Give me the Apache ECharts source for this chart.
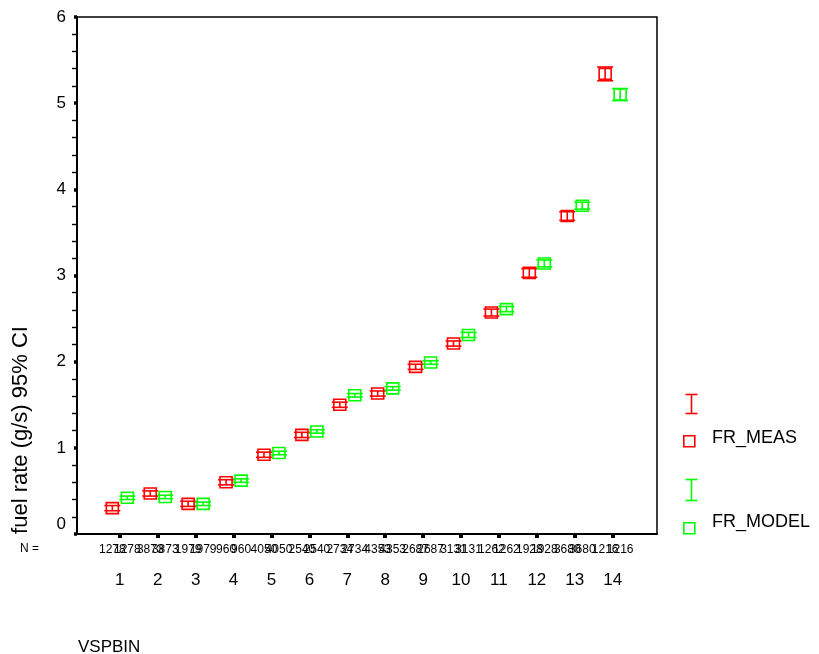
<!DOCTYPE html>
<html>
<head>
<meta charset="utf-8">
<script src="https://cdn.jsdelivr.net/npm/echarts@6/dist/echarts.min.js"></script>
<style>
  html, body { margin: 0; padding: 0; background: #fff; }
  #chart { width: 819px; height: 654px; }
</style>
</head>
<body>
<div id="chart"></div>
<script>
// Speed bins on the x axis
const bins = [1, 2, 3, 4, 5, 6, 7, 8, 9, 10, 11, 12, 13, 14];

// Measured fuel rate (g/s): mean and 95% confidence interval
const measMean = [0.30, 0.47, 0.35, 0.60, 0.92, 1.15, 1.50, 1.63, 1.94, 2.21, 2.57, 3.03, 3.69, 5.34];
const measLow  = [0.27, 0.44, 0.32, 0.57, 0.89, 1.12, 1.47, 1.60, 1.91, 2.18, 2.53, 2.98, 3.64, 5.26];
const measHigh = [0.33, 0.50, 0.38, 0.63, 0.95, 1.18, 1.53, 1.66, 1.97, 2.24, 2.61, 3.08, 3.74, 5.42];

// Modelled fuel rate (g/s): mean and 95% confidence interval
const modelMean = [0.42, 0.43, 0.35, 0.62, 0.94, 1.19, 1.61, 1.69, 1.99, 2.31, 2.61, 3.14, 3.81, 5.10];
const modelLow  = [0.40, 0.41, 0.33, 0.60, 0.92, 1.17, 1.59, 1.67, 1.97, 2.28, 2.58, 3.10, 3.77, 5.03];
const modelHigh = [0.44, 0.45, 0.37, 0.64, 0.96, 1.21, 1.63, 1.71, 2.01, 2.34, 2.64, 3.18, 3.85, 5.17];

// Number of cases in each bin
const binN = [1278, 3873, 1979, 960, 4050, 2540, 2734, 4353, 2687, 3131, 1262, 1928, 3680, 1216];

// Value-axis ticks
const yTicks = [0, 1, 2, 3, 4, 5, 6];

const FONT = '"Liberation Sans", Arial, Helvetica, sans-serif';
const RED = '#ff0000';
const GREEN = '#00ff00';

function buildData(mean, low, high) {
  return bins.map((b, i) => [b, mean[i], low[i], high[i], binN[i]]);
}

// Hollow square at the mean, whiskers with caps for the CI, and the case count under the axis
function errorBarItem(color, shiftPx) {
  return function (params, api) {
    const p = api.coord([api.value(0), api.value(1)]);
    const cx = p[0] + shiftPx;
    const cy = p[1];
    const yLo = api.coord([api.value(0), api.value(2)])[1];
    const yHi = api.coord([api.value(0), api.value(3)])[1];
    const yBase = api.coord([api.value(0), 0])[1];
    const st = { stroke: color, lineWidth: 1.6 };
    return {
      type: 'group',
      children: [
        { type: 'rect', shape: { x: cx - 6, y: cy - 5.5, width: 12, height: 11 },
          style: { stroke: color, fill: 'transparent', lineWidth: 1.6 } },
        { type: 'line', shape: { x1: cx, y1: yLo, x2: cx, y2: yHi }, style: st },
        { type: 'line', shape: { x1: cx - 8, y1: yLo, x2: cx + 8, y2: yLo }, style: st },
        { type: 'line', shape: { x1: cx - 8, y1: yHi, x2: cx + 8, y2: yHi }, style: st },
        { type: 'text', x: cx, y: yBase + 16,
          style: { text: String(api.value(4)), fill: '#000', font: '12px ' + FONT,
                   align: 'center', verticalAlign: 'middle' } }
      ]
    };
  };
}

const chart = echarts.init(document.getElementById('chart'), null, { renderer: 'canvas' });

chart.setOption({
  animation: false,
  backgroundColor: '#fff',
  grid: {
    left: 77, top: 17, width: 580, height: 517,
    show: true, borderColor: '#000', borderWidth: 1.5, backgroundColor: 'transparent'
  },
  xAxis: {
    type: 'value',
    min: -0.13, max: 15.17,
    splitLine: { show: false },
    axisLine: { show: true, onZero: false, lineStyle: { color: '#000', width: 2 } },
    axisTick: { show: true, customValues: bins, length: 4, inside: false,
                lineStyle: { color: '#000', width: 4 } },
    axisLabel: { show: true, customValues: bins, margin: 38,
                 color: '#000', fontSize: 17, fontFamily: FONT }
  },
  yAxis: {
    type: 'value',
    min: 0, max: 6, interval: 1,
    splitLine: { show: false },
    axisLine: { show: true, onZero: false, lineStyle: { color: '#000', width: 2 } },
    axisTick: { show: true, length: 3, lineStyle: { color: '#000', width: 3.5 } },
    minorTick: { show: true, splitNumber: 5, length: 5, lineStyle: { color: '#000', width: 1.4 } },
    axisLabel: {
      show: true, margin: 11, color: '#000', fontSize: 17, fontFamily: FONT,
      customValues: yTicks,
      formatter: v => (v === 0 ? '{z|0}' : String(v)),
      rich: { z: { fontSize: 17, fontFamily: FONT, color: '#000', padding: [0, 0, 20, 0] } }
    },
    name: 'fuel rate (g/s) 95% CI',
    nameLocation: 'middle', nameGap: 45, nameRotate: 90,
    nameTextStyle: { color: '#000', fontSize: 22, fontFamily: FONT, padding: [0, 0, 0, -309] }
  },
  series: [
    {
      name: 'FR_MEAS', type: 'custom',
      renderItem: errorBarItem(RED, -7.5),
      data: buildData(measMean, measLow, measHigh),
      clip: false, z: 3
    },
    {
      name: 'FR_MODEL', type: 'custom',
      renderItem: errorBarItem(GREEN, 7.5),
      data: buildData(modelMean, modelLow, modelHigh),
      clip: false, z: 4
    }
  ],
  graphic: [
    { type: 'text', left: 20, top: 543,
      style: { text: 'N =', fill: '#000', font: '12px ' + FONT } },
    { type: 'text', left: 78, top: 639,
      style: { text: 'VSPBIN', fill: '#000', font: '17px ' + FONT } },
    // legend: red CI bar and mean marker
    { type: 'group', left: 683, top: 392, children: [
      { type: 'line', shape: { x1: 6, y1: 0, x2: 6, y2: 19 }, style: { stroke: RED, lineWidth: 1.6 } },
      { type: 'line', shape: { x1: 0, y1: 0, x2: 12, y2: 0 }, style: { stroke: RED, lineWidth: 1.6 } },
      { type: 'line', shape: { x1: 0, y1: 19, x2: 12, y2: 19 }, style: { stroke: RED, lineWidth: 1.6 } }
    ] },
    { type: 'rect', left: 683, top: 435, shape: { width: 11, height: 11 },
      style: { stroke: RED, fill: 'transparent', lineWidth: 1.6 } },
    { type: 'text', left: 712, top: 429,
      style: { text: 'FR_MEAS', fill: '#000', font: '18px ' + FONT } },
    // legend: green CI bar and mean marker
    { type: 'group', left: 683, top: 477, children: [
      { type: 'line', shape: { x1: 6, y1: 0, x2: 6, y2: 21 }, style: { stroke: GREEN, lineWidth: 1.6 } },
      { type: 'line', shape: { x1: 0, y1: 0, x2: 12, y2: 0 }, style: { stroke: GREEN, lineWidth: 1.6 } },
      { type: 'line', shape: { x1: 0, y1: 21, x2: 12, y2: 21 }, style: { stroke: GREEN, lineWidth: 1.6 } }
    ] },
    { type: 'rect', left: 683, top: 522, shape: { width: 11, height: 11 },
      style: { stroke: GREEN, fill: 'transparent', lineWidth: 1.6 } },
    { type: 'text', left: 712, top: 513,
      style: { text: 'FR_MODEL', fill: '#000', font: '18px ' + FONT } }
  ]
});
</script>
</body>
</html>
